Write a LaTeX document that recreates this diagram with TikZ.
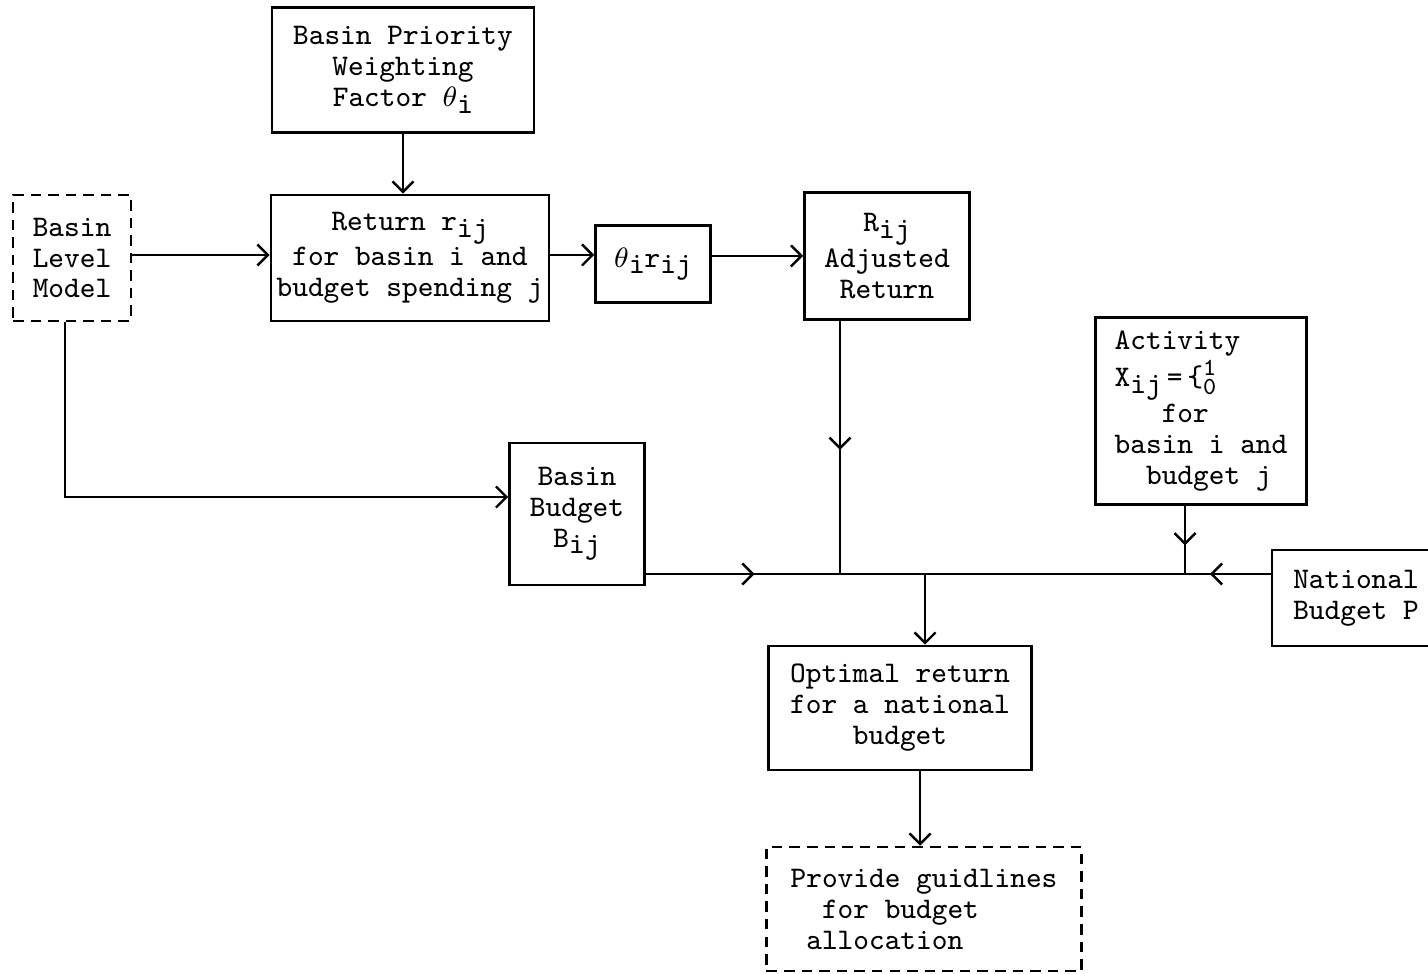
\documentclass[tikz,border=0pt]{standalone}
\usetikzlibrary{positioning, arrows.meta, decorations.markings}

\newcommand\tsub[1]{\raisebox{-.5ex}{#1}}

\begin{document}
\begin{tikzpicture}[
    x=0.01cm, y=-0.01cm,
    block/.style 2 args = {draw, align=center, inner sep=0pt, minimum width=#1, minimum height=#2},
    dashblock/.style 2 args = {block={#1}{#2}, dash pattern=on 3pt off 2pt},
    midarrow/.style = {postaction={decorate}, decoration={markings, mark=at position #1 with {\arrow{>}}}},
    every node/.style = {font=\fontsize{8.5}{8.8}\ttfamily},
    line width=0.7pt,
    >={Straight Barb[length=3pt, width=6pt]}
  ]

  \useasboundingbox (0,0) rectangle (1428,974);

  \node[block={2.62cm}{1.25cm}] (prio) at (403,70) {Basin Priority\\Weighting\\Factor $\theta$\tsub{i}};
  \node[dashblock={1.18cm}{1.26cm}] (blm) at (72,258) {Basin\\Level\\Model};
  \node[block={2.78cm}{1.26cm}] (ret) at (410,258) {Return r\tsub{ij}\\for basin i and\\budget spending j};
  \node[block={1.15cm}{0.77cm}] (thr) at (653,264) {$\theta$\tsub{i}r\tsub{ij}};
  \node[block={1.65cm}{1.27cm}] (adj) at (887,256) {R\tsub{ij}\\Adjusted\\Return};
  \node[block={2.11cm}{1.87cm}, align=left] (act) at (1201,411) {Activity\\X\tsub{ij}\,=\,\{\raisebox{.9ex}{\scriptsize 1}\llap{\raisebox{-.6ex}{\scriptsize 0}}\\\hspace*{1.575em}for\\basin i and\\\hspace*{1.05em}budget j};
  \node[block={1.35cm}{1.42cm}] (bud) at (577,514) {Basin\\Budget\\B\tsub{ij}};
  \node[block={1.68cm}{0.96cm}] (nat) at (1356,598) {National\\Budget P};
  \node[block={2.63cm}{1.24cm}] (opt) at (900,708) {Optimal return\\for a national\\budget};
  \node[dashblock={3.15cm}{1.24cm}, align=left] (guide) at (924,909) {Provide guidlines\\\hspace*{1.05em}for budget\\\hspace*{.525em}allocation};

  \coordinate (jA) at (840,574);
  \coordinate (jB) at (925,574);
  \coordinate (jC) at (1185,574);

  \draw[->] (prio.south) -- (prio.south |- ret.north);
  \draw[->] (blm.east |- 0,255) -- (ret.west |- 0,255);
  \draw[->] (ret.east |- 0,255) -- (thr.west |- 0,255);
  \draw[->] (thr.east |- 0,256) -- (adj.west |- 0,256);
  \draw[->] (blm.south -| 65,0) |- (bud.west |- 0,497);

  \draw[midarrow=0.56] (bud.east |- jA) -- (jA);
  \draw[midarrow=0.51] (adj.south -| jA) -- (jA);
  \draw[midarrow=0.58] (act.south -| jC) -- (jC);
  \draw[midarrow=0.71] (nat.west |- jC) -- (jC);
  \draw (jA) -- (jC);
  \draw[->] (jB) -- (jB |- opt.north);
  \draw[->] (opt.south -| 920,0) -- (guide.north -| 920,0);

\end{tikzpicture}
\end{document}
